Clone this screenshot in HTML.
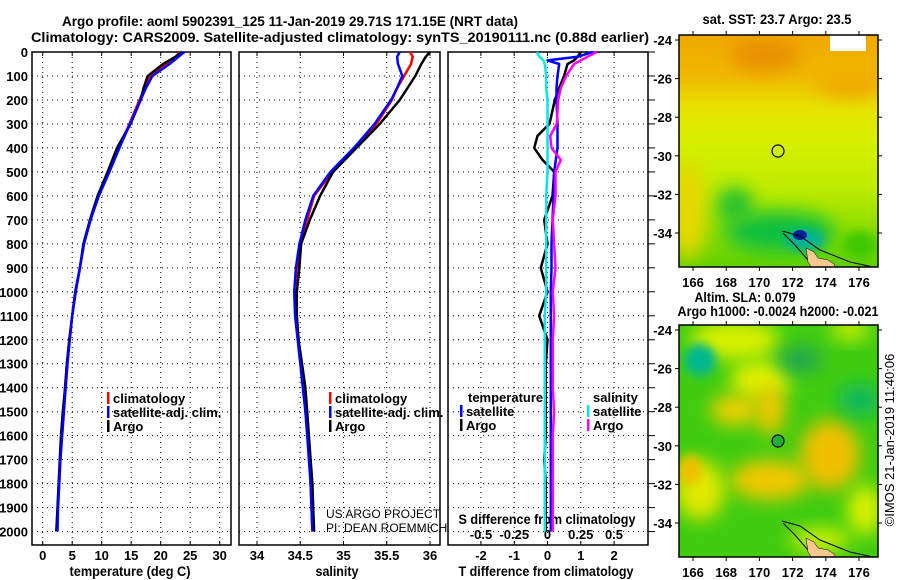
<!DOCTYPE html>
<html><head><meta charset="utf-8">
<style>
html,body{margin:0;padding:0;background:#fff;}
svg{display:block;font-family:"Liberation Sans",Arial,sans-serif;}
.t{font-weight:bold;font-size:14px;fill:#000;}
.tk{font-weight:bold;font-size:13px;fill:#000;}
.g{stroke:#000;stroke-width:1;stroke-dasharray:1,4;}
</style></head>
<body>
<svg id="chart" width="900" height="580" viewBox="0 0 900 580">
<defs>
<filter id="bl" x="-50%" y="-50%" width="200%" height="200%"><feGaussianBlur stdDeviation="9"/></filter>
<filter id="bl2" x="-50%" y="-50%" width="200%" height="200%"><feGaussianBlur stdDeviation="5"/></filter>
<clipPath id="c1"><rect x="679" y="35" width="199" height="232"/></clipPath>
<clipPath id="c2"><rect x="679" y="325" width="199" height="232"/></clipPath>
<linearGradient id="sst" x1="0" y1="0" x2="0" y2="1">
<stop offset="0" stop-color="#f0a800"/><stop offset="0.18" stop-color="#f0b800"/><stop offset="0.3" stop-color="#e8e000"/><stop offset="0.45" stop-color="#d8f000"/><stop offset="0.65" stop-color="#c0ec00"/><stop offset="1" stop-color="#60d000"/>
</linearGradient>
</defs>
<text class="t" x="290" y="26" text-anchor="middle" textLength="456" lengthAdjust="spacingAndGlyphs">Argo profile: aoml 5902391_125 11-Jan-2019 29.71S 171.15E (NRT data)</text>
<text class="t" x="340" y="42" text-anchor="middle" textLength="618" lengthAdjust="spacingAndGlyphs">Climatology: CARS2009. Satellite-adjusted climatology: synTS_20190111.nc (0.88d earlier)</text>

<g id="panels"></g>

<!-- SST map -->
<g>
<text class="t" x="777" y="24" text-anchor="middle" textLength="149" lengthAdjust="spacingAndGlyphs">sat. SST: 23.7 Argo: 23.5</text>
<g clip-path="url(#c1)">
<rect x="679" y="35" width="199" height="232" fill="url(#sst)"/>
<ellipse cx="765" cy="55" rx="35" ry="16" fill="#e89000" filter="url(#bl)"/>
<ellipse cx="850" cy="85" rx="35" ry="12" fill="#f0a800" filter="url(#bl)"/>
<ellipse cx="688" cy="210" rx="18" ry="50" fill="#e8d800" filter="url(#bl)"/>
<ellipse cx="780" cy="232" rx="55" ry="20" fill="#10c040" filter="url(#bl)"/>
<ellipse cx="735" cy="205" rx="18" ry="18" fill="#20c030" filter="url(#bl)"/>
<ellipse cx="805" cy="240" rx="20" ry="10" fill="#00b0a0" filter="url(#bl2)"/>
<ellipse cx="800" cy="235" rx="7" ry="5" fill="#0020a0"/>
<ellipse cx="860" cy="245" rx="18" ry="14" fill="#40c800" filter="url(#bl2)"/>
<rect x="830" y="35" width="36" height="16" fill="#fff"/>
<polyline points="782,231 800,236 820,250 850,262 878,268" fill="none" stroke="#000" stroke-width="1"/>
<polyline points="783,233 795,245 808,260 812,267" fill="none" stroke="#000" stroke-width="1"/>
<polygon points="806,248 814,252 818,258 828,260 834,264 836,268 812,268 808,262" fill="#f8c890" stroke="#000" stroke-width="0.5"/>
</g>
<rect x="679" y="35" width="199" height="232" fill="none" stroke="#000" stroke-width="1.5"/>
<circle cx="778" cy="151" r="6" fill="none" stroke="#000" stroke-width="1.2"/>
<g id="sstaxes"></g>
</g>

<!-- SLA map -->
<g>
<text class="t" x="745" y="302" text-anchor="middle" textLength="101" lengthAdjust="spacingAndGlyphs">Altim. SLA: 0.079</text>
<text class="t" x="778" y="316" text-anchor="middle" textLength="201" lengthAdjust="spacingAndGlyphs">Argo h1000: -0.0024 h2000: -0.021</text>
<g clip-path="url(#c2)">
<rect x="679" y="325" width="199" height="232" fill="#40cc10"/>
<ellipse cx="735" cy="340" rx="45" ry="20" fill="#d8f000" filter="url(#bl)"/>
<ellipse cx="760" cy="380" rx="30" ry="20" fill="#e0f000" filter="url(#bl)"/>
<ellipse cx="735" cy="410" rx="25" ry="15" fill="#f0d000" filter="url(#bl)"/>
<ellipse cx="770" cy="410" rx="15" ry="25" fill="#f0c800" filter="url(#bl)"/>
<ellipse cx="830" cy="455" rx="30" ry="35" fill="#f0c000" filter="url(#bl)"/>
<ellipse cx="770" cy="480" rx="40" ry="20" fill="#f0c800" filter="url(#bl)"/>
<ellipse cx="700" cy="490" rx="25" ry="30" fill="#e0e800" filter="url(#bl)"/>
<ellipse cx="690" cy="470" rx="12" ry="15" fill="#f0c000" filter="url(#bl2)"/>
<ellipse cx="850" cy="330" rx="20" ry="10" fill="#d0f000" filter="url(#bl)"/>
<ellipse cx="865" cy="510" rx="18" ry="25" fill="#d8f000" filter="url(#bl)"/>
<ellipse cx="820" cy="540" rx="30" ry="12" fill="#d0f000" filter="url(#bl)"/>
<ellipse cx="700" cy="360" rx="16" ry="16" fill="#00b890" filter="url(#bl2)"/>
<ellipse cx="860" cy="400" rx="22" ry="16" fill="#10b860" filter="url(#bl)"/>
<ellipse cx="800" cy="360" rx="22" ry="14" fill="#20a850" filter="url(#bl)"/>
<polyline points="782,521 800,526 820,540 850,552 878,558" fill="none" stroke="#000" stroke-width="1"/>
<polyline points="783,523 795,535 808,550 812,557" fill="none" stroke="#000" stroke-width="1"/>
<polygon points="806,538 814,542 818,548 828,550 834,554 836,558 812,558 808,552" fill="#f8c890" stroke="#000" stroke-width="0.5"/>
</g>
<rect x="679" y="325" width="199" height="232" fill="none" stroke="#000" stroke-width="1.5"/>
<circle cx="778" cy="441" r="6" fill="#20b030" stroke="#000" stroke-width="1.2"/>
<g id="slaaxes"></g>
</g>
<text x="894" y="440" font-size="13" text-anchor="middle" transform="rotate(-90 894 440)" fill="#000">©IMOS 21-Jan-2019 11:40:06</text>
</svg>
<script>
// ---- data ----
const depths = [0,20,50,100,150,200,300,400,500,600,700,800,900,1000,1100,1200,1300,1400,1500,1600,1700,1800,1900,2000];
const tempArgo = [23.6,22.5,20.4,17.8,17.1,16.6,14.9,12.6,11.0,9.3,8.0,6.9,6.3,5.5,5.0,4.5,4.1,3.8,3.4,3.1,2.9,2.7,2.5,2.3];
const tempClim = [23.2,22.6,21.0,18.2,17.3,16.4,14.7,12.9,11.2,9.5,8.1,7.0,6.3,5.6,5.0,4.5,4.1,3.8,3.5,3.2,3.0,2.8,2.6,2.4];
const tempSat  = [24.0,23.0,21.5,18.6,17.5,16.6,14.8,13.0,11.3,9.5,8.1,7.0,6.3,5.6,5.0,4.6,4.2,3.9,3.6,3.3,3.0,2.8,2.6,2.5];
const salArgo = [36.0,35.95,35.9,35.83,35.74,35.65,35.42,35.15,34.88,34.73,34.61,34.51,34.49,34.46,34.46,34.48,34.52,34.56,34.58,34.60,34.62,34.64,34.65,34.66];
const salClim = [35.77,35.80,35.78,35.70,35.62,35.56,35.38,35.13,34.87,34.66,34.58,34.51,34.47,34.46,34.46,34.48,34.51,34.54,34.57,34.59,34.61,34.62,34.63,34.64];
const salSat  = [35.65,35.62,35.63,35.68,35.62,35.55,35.36,35.12,34.85,34.65,34.56,34.49,34.45,34.43,34.44,34.47,34.50,34.53,34.56,34.58,34.60,34.62,34.63,34.64];
const diffDepths = [0,20,35,50,100,150,200,300,350,400,450,500,600,700,800,900,1000,1100,1200,1300,1400,1500,1600,1700,1800,1900,2000];
const dT_Argo = [1.0,0.9,0.8,0.6,0.5,0.35,0.22,0.06,-0.3,-0.4,-0.15,0.2,0.15,-0.1,0.0,-0.2,0.0,-0.25,0.0,-0.05,-0.05,-0.05,-0.05,-0.1,-0.05,-0.05,-0.05];
const dT_Sat  = [1.35,0.9,0.0,0.35,0.3,0.27,0.27,0.3,0.3,0.3,0.25,0.2,0.18,0.15,0.12,0.12,0.1,0.1,0.1,0.1,0.1,0.1,0.1,0.1,0.1,0.1,0.1];
const dS_Argo = [0.37,0.3,0.25,0.2,0.14,0.1,0.08,0.07,0.02,0.03,0.1,0.06,0.06,0.04,0.05,0.06,0.04,0.05,0.04,0.04,0.04,0.05,0.04,0.04,0.04,0.04,0.04];
const dS_Sat  = [-0.08,-0.06,-0.03,-0.02,-0.01,-0.01,0.0,0.0,0.0,0.0,0.0,0.0,-0.01,-0.01,-0.01,-0.01,-0.01,-0.02,-0.02,-0.02,-0.02,-0.02,-0.02,-0.02,-0.02,-0.02,-0.02];
const depthTicks = [0,100,200,300,400,500,600,700,800,900,1000,1100,1200,1300,1400,1500,1600,1700,1800,1900,2000];
const tempTicks = [0,5,10,15,20,25,30];
const salTicks = [34,34.5,35,35.5,36];
const salTickLabels = ["34","34.5","35","35.5","36"];
const dTTicks = [-2,-1,0,1,2];
const dSTicks = [-0.5,-0.25,0,0.25,0.5];
const dSTickLabels = ["-0.5","-0.25","0","0.25","0.5"];
const lonTicks = [166,168,170,172,174,176];
const latTicks = [-24,-26,-28,-30,-32,-34];

// ---- scales ----
const Y0 = 52, YB = 545;
const yD = d => Y0 + d*0.2398;
const xT = v => 42.7 + v*5.9;
const xS = v => 343.5 + (v-35)*86.5;
const xdT = v => 547.5 + v*33.3;
const xdS = v => 547.5 + v*133;
const NS = "http://www.w3.org/2000/svg";
const svg = document.getElementById('panels');
function mk(tag, attrs, parent){const e=document.createElementNS(NS,tag);for(const k in attrs)e.setAttribute(k,attrs[k]);(parent||svg).appendChild(e);return e;}

const panels = [{x0:32,x1:231,name:'temperature-panel'},{x0:239,x1:440,name:'salinity-panel'},{x0:448,x1:648,name:'difference-panel'}];
panels.forEach((p,i)=>{
  const g = mk('g',{});
  
  
  depthTicks.forEach(d=>{ if(d>0) mk('line',{x1:p.x0,x2:p.x1,y1:yD(d),y2:yD(d),class:'g'},g); });
  const vt = i===0?tempTicks.map(xT):i===1?salTicks.map(xS):dTTicks.map(xdT);
  vt.forEach(x=>mk('line',{x1:x,x2:x,y1:Y0,y2:YB,class:'g'},g));
  vt.forEach(x=>{mk('line',{x1:x,x2:x,y1:YB,y2:YB-4,stroke:'#000'},g);mk('line',{x1:x,x2:x,y1:Y0,y2:Y0+4,stroke:'#000'},g);});
  const fr = mk('rect',{x:p.x0,y:Y0,width:p.x1-p.x0,height:YB-Y0,fill:'none',stroke:'#000','stroke-width':1.5},g);
  
  
});
depthTicks.forEach(d=>{
  const t=mk('text',{x:28,y:yD(d)+5,'text-anchor':'end',class:'tk'});
  t.textContent=d;
  
  
});
depthTicks.forEach(d=>{ mk('line',{x1:648,x2:655,y1:yD(d),y2:yD(d),stroke:'#000'}); });

function xlabels(ticks, labels, fx, y, name){
  ticks.forEach((v,i)=>{
    const t=mk('text',{x:fx(v),y:y,'text-anchor':'middle',class:'tk'});
    t.textContent=labels?labels[i]:v;
    
    
  });
}
xlabels(tempTicks,null,xT,560,'temperature-tick-label');
xlabels(salTicks,salTickLabels,xS,560,'salinity-tick-label');
xlabels(dTTicks,null,xdT,560,'t-diff-tick-label');
xlabels(dSTicks,dSTickLabels,xdS,539,'s-diff-tick-label');

function title(x,y,s,name,len){const t=mk('text',{x:x,y:y,'text-anchor':'middle',class:'t',textLength:len,lengthAdjust:'spacingAndGlyphs'});t.textContent=s;
  
  }
title(130,576,'temperature (deg C)','x-axis-title-temperature',121);
title(337,576,'salinity','x-axis-title-salinity',43);
title(546,576,'T difference from climatology','x-axis-title-t-diff',175);
title(547,524,'S difference from climatology','x-axis-title-s-diff',177);

function line(xs, ds, fx, color, name, w){
  const pts = xs.map((v,i)=>fx(v).toFixed(1)+','+yD(ds[i]).toFixed(1)).join(' ');
  const l = mk('polyline',{points:pts,fill:'none',stroke:color,'stroke-width':w||2,'stroke-linejoin':'round'});
  
  
}
line(tempClim,depths,xT,'#ff0000','temperature-climatology-line',2.5);
line(tempArgo,depths,xT,'#000000','temperature-argo-line',2.5);
line(tempSat,depths,xT,'#0000ff','temperature-satellite-line',2.5);
line(salClim,depths,xS,'#ff0000','salinity-climatology-line',2.5);
line(salArgo,depths,xS,'#000000','salinity-argo-line',2.5);
line(salSat,depths,xS,'#0000ff','salinity-satellite-line',2.5);
line(dT_Argo,diffDepths,xdT,'#000000','t-diff-argo-line',2.5);
line(dT_Sat,diffDepths,xdT,'#0000ff','t-diff-satellite-line',2.5);
line(dS_Sat,diffDepths,xdS,'#00e8e8','s-diff-satellite-line',2.5);
line(dS_Argo,diffDepths,xdS,'#ff00ff','s-diff-argo-line',2.5);

function legend(x,y,color,label,name){
  const g=mk('g',{});
  
  
  mk('rect',{x:x,y:y-11,width:2.5,height:12,fill:color},g);
  const t=mk('text',{x:x+6,y:y,class:'tk'},g);t.textContent=label;
}
legend(107,403,'#ff0000','climatology','legend-temp-climatology');
legend(107,417,'#0000ff','satellite-adj. clim.','legend-temp-satellite');
legend(107,431,'#000000','Argo','legend-temp-argo');
legend(329,403,'#ff0000','climatology','legend-sal-climatology');
legend(329,417,'#0000ff','satellite-adj. clim.','legend-sal-satellite');
legend(329,431,'#000000','Argo','legend-sal-argo');
{const t=mk('text',{x:468,y:402,class:'tk'});t.textContent='temperature';
 
 }
{const t=mk('text',{x:593,y:402,class:'tk'});t.textContent='salinity';
 
 }
legend(460,416,'#0000ff','satellite','legend-tdiff-satellite');
legend(460,430,'#000000','Argo','legend-tdiff-argo');
legend(587,416,'#00e8e8','satellite','legend-sdiff-satellite');
legend(587,430,'#ff00ff','Argo','legend-sdiff-argo');
{const t=mk('text',{x:326,y:518,'font-size':12,fill:'#000'});t.textContent='US ARGO PROJECT';
 
 }
{const t=mk('text',{x:326,y:532,'font-size':12,fill:'#000'});t.textContent='PI: DEAN ROEMMICH';
 
 }

function mapAxes(id, top){
  const g=document.getElementById(id);
  const yL = v => top+5 + (-24 - v)*19.3;
  lonTicks.forEach(v=>{
    const x=693+(v-166)*16.6;
    mk('line',{x1:x,x2:x,y1:top,y2:top-4,stroke:'#000'},g);
    mk('line',{x1:x,x2:x,y1:top+232,y2:top+236,stroke:'#000'},g);
    const t=mk('text',{x:x,y:top+252,'text-anchor':'middle',class:'tk'},g);t.textContent=v;
    
    
  });
  latTicks.forEach(v=>{
    const y=yL(v);
    mk('line',{x1:675,x2:679,y1:y,y2:y,stroke:'#000'},g);
    mk('line',{x1:878,x2:882,y1:y,y2:y,stroke:'#000'},g);
    const t=mk('text',{x:672,y:y+5,'text-anchor':'end',class:'tk'},g);t.textContent=v;
    
    
  });
}
mapAxes('sstaxes',35);
mapAxes('slaaxes',325);
</script>
</body></html>
